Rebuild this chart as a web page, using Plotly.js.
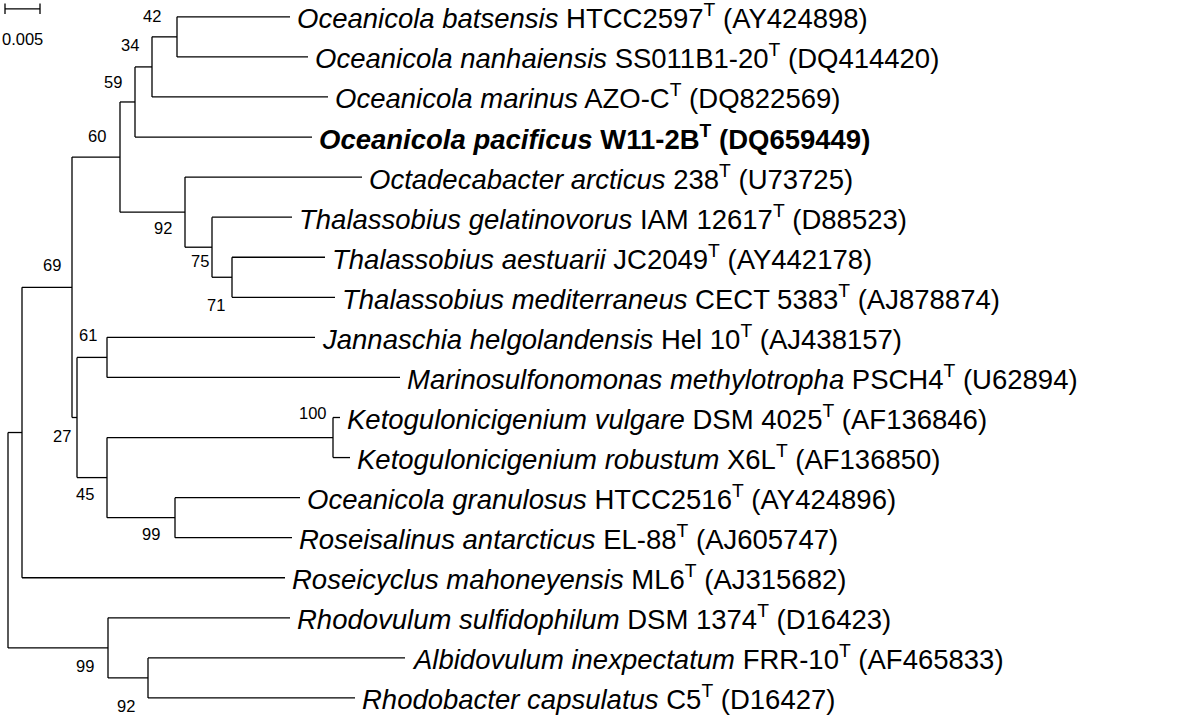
<!DOCTYPE html>
<html><head><meta charset="utf-8">
<script src="https://cdn.plot.ly/plotly-3.0.1.min.js"></script>
<style>body{margin:0;background:#fff}#c{width:1183px;height:716px}</style>
</head><body><div id="c"></div>
<script>
// Leaf labels (genus species in italics, strain, accession)
const leafSpecies = ["Oceanicola batsensis","Oceanicola nanhaiensis","Oceanicola marinus","Oceanicola pacificus","Octadecabacter arcticus","Thalassobius gelatinovorus","Thalassobius aestuarii","Thalassobius mediterraneus","Jannaschia helgolandensis","Marinosulfonomonas methylotropha","Ketogulonicigenium vulgare","Ketogulonicigenium robustum","Oceanicola granulosus","Roseisalinus antarcticus","Roseicyclus mahoneyensis","Rhodovulum sulfidophilum","Albidovulum inexpectatum","Rhodobacter capsulatus"];
const leafStrain = ["HTCC2597","SS011B1-20","AZO-C","W11-2B","238","IAM 12617","JC2049","CECT 5383","Hel 10","PSCH4","DSM 4025","X6L","HTCC2516","EL-88","ML6","DSM 1374","FRR-10","C5"];
const leafAcc = ["AY424898","DQ414420","DQ822569","DQ659449","U73725","D88523","AY442178","AJ878874","AJ438157","U62894","AF136846","AF136850","AY424896","AJ605747","AJ315682","D16423","AF465833","D16427"];
// Leaf depths (cumulative distance, scale units: 35 units = 0.005 substitutions)
const leafDepth = [290,308,328,312,362,292,325,335,315,400,340,350,300,292,285,290,405,355];
// Internal nodes: name, depth, children (leaf index or node name), bootstrap
const nodeNames = ["A","B","C","D","E","F","G","H","I","J","K","L","M","N","O","P","R"];
const nodeDepth = [177,152,135,232,212,185,120,107,333,175,107,77,72,22,148,108,8];
const nodeChildren = [[0,1],["A",2],["B",3],[6,7],[5,"D"],[4,"E"],["C","F"],[8,9],[10,11],[12,13],["I","J"],["H","K"],["G","L"],["M",14],[16,17],[15,"O"],["N","P"]];
const nodeBoot = ["42","34","59","71","75","92","60","61","100","99","45","27","69","","92","99",""];
// bootstrap label offsets relative to node: [x px, y rows]
const bootPos = {"A":[152,-0.02],"B":[130,0.7],"C":[113,1.63],"D":[216,7.2],"E":[200,6.1],"F":[163,5.28],"G":[97,2.98],"H":[88,7.94],"I":[313,9.9],"J":[151,12.9],"K":[85,11.9],"L":[62,10.45],"M":[52,6.2],"O":[126,17.2],"P":[85,16.2]};

const idx = {}; nodeNames.forEach((n,i)=>idx[n]=i);
const ys = {};
function yOf(c){ if(typeof c==="number") return c; if(ys[c]!==undefined) return ys[c];
  const ch=nodeChildren[idx[c]]; const v=(yOf(ch[0])+yOf(ch[ch.length-1]))/2; ys[c]=v; return v;}
function xOf(c){ return typeof c==="number" ? leafDepth[c] : nodeDepth[idx[c]]; }
const lx=[], ly=[];
nodeNames.forEach((n,i)=>{
  const ch=nodeChildren[i];
  lx.push(nodeDepth[i],nodeDepth[i],null); ly.push(yOf(ch[0]),yOf(ch[ch.length-1]),null);
  ch.forEach(c=>{ lx.push(nodeDepth[i],xOf(c),null); ly.push(yOf(c),yOf(c),null); });
});
// scale bar 0.005
const scaleLen = 35;
lx.push(5,5+scaleLen,null,5,5,null,5+scaleLen,5+scaleLen,null);
ly.push(-0.2,-0.2,null,-0.33,-0.07,null,-0.33,-0.07,null);

const ann=[];
leafSpecies.forEach((s,i)=>{
  let t = "<i>"+s+"</i> "+leafStrain[i]+"<sup>T</sup> ("+leafAcc[i]+")";
  if(i===3) t="<b>"+t+"</b>";
  ann.push({x:leafDepth[i]+5,y:i,text:t,xanchor:"left",yanchor:"middle",showarrow:false,font:{size:27.5,color:"#000"}});
});
nodeNames.forEach((n,i)=>{ if(nodeBoot[i] && bootPos[n]) ann.push({x:bootPos[n][0],y:bootPos[n][1],text:nodeBoot[i],showarrow:false,xanchor:"center",yanchor:"middle",font:{size:16.5,color:"#000"}}); });
ann.push({x:22,y:0.55,text:"0.005",showarrow:false,xanchor:"center",yanchor:"middle",font:{size:16.5,color:"#000"}});

Plotly.newPlot("c",[{x:lx,y:ly,mode:"lines",type:"scatter",line:{color:"#000",width:1.3},hoverinfo:"skip"}],{
  width:1183,height:716,margin:{l:0,r:0,t:0,b:0},paper_bgcolor:"#fff",plot_bgcolor:"#fff",showlegend:false,
  font:{family:"Liberation Sans, Arial, sans-serif"},
  xaxis:{range:[0,1183],visible:false},
  yaxis:{range:[17.45,-0.42],visible:false},
  annotations:ann
},{staticPlot:true});
</script></body></html>
